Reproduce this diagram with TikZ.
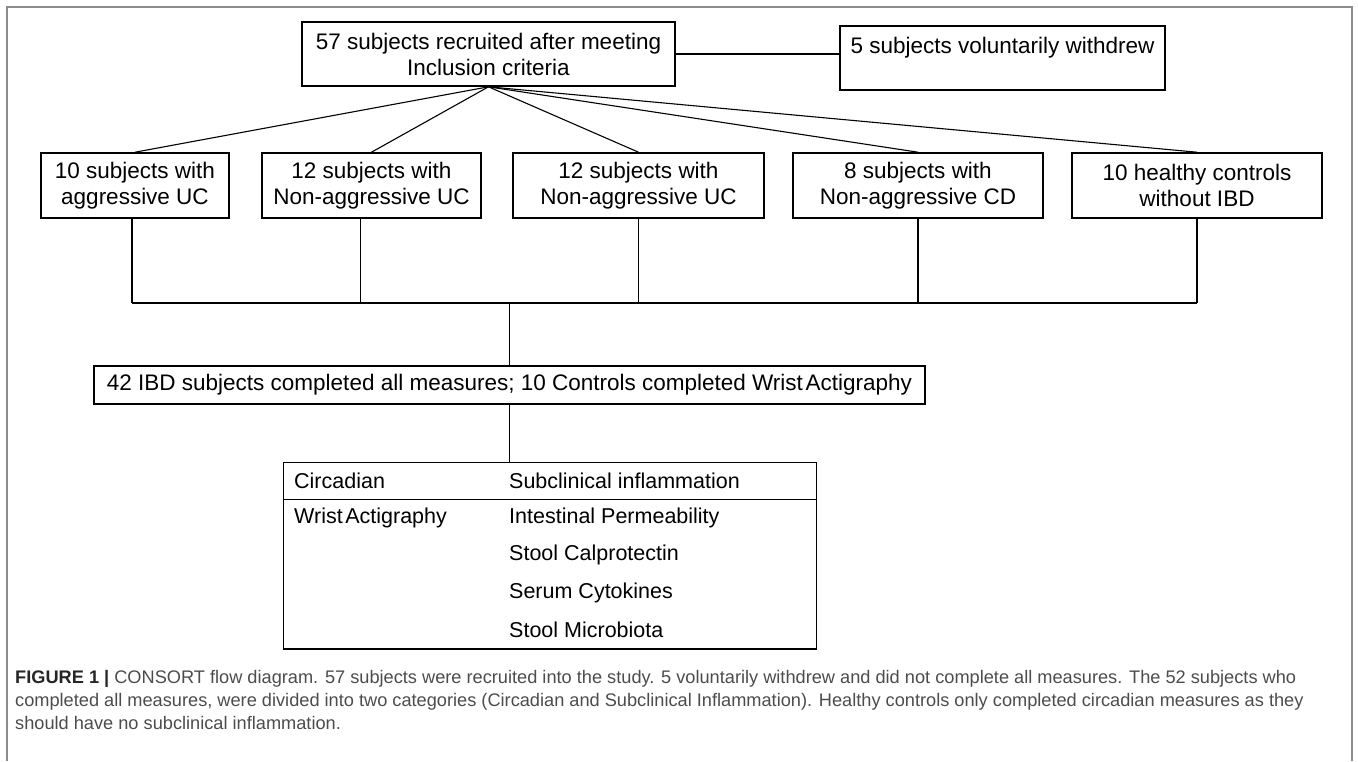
\documentclass[tikz,border=0pt]{standalone}
\usepackage{fontspec}
\setmainfont{Liberation Sans}
\usepackage{tikz}
\definecolor{framegray}{gray}{0.55}
\definecolor{captgray}{gray}{0.3}
\tikzset{
	box/.style={draw, line width=1.6pt, align=center, inner sep=0pt, font=\fontsize{22.5}{26}\selectfont},
	link/.style={line width=1.1pt},
	cell/.style={anchor=west, inner sep=0pt, font=\fontsize{21.5}{24}\selectfont}
}
\newcommand{\wristact}{Wrist\hspace{0.12em}Actigraphy}

\begin{document}
\begin{tikzpicture}[x=1pt, y=-1pt]
			\useasboundingbox (0,0) rectangle (1358,761);
			\draw[framegray, line width=1.5pt] (7,761) -- (7,7) -- (1352,7) -- (1352,761);
			
			\node[box, minimum width=373pt, minimum height=64pt] (recruit) at (488.5,54) {57 subjects recruited after meeting\\Inclusion criteria};
			\node[box, minimum width=325pt, minimum height=64pt] (withdrew) at (1002.5,58) {5 subjects voluntarily withdrew\\\mbox{}};
			\draw[link] (recruit.east) -- (recruit.east -| withdrew.west);
			
			\foreach \n/\x/\w/\o/\t in
			{g1/135/188/-3/{10 subjects with\\aggressive UC},
			 g2/371.5/219/-11/{12 subjects with\\Non-aggressive UC},
			 g3/638.5/251/0/{12 subjects with\\Non-aggressive UC},
			 g4/918/250/0/{8 subjects with\\Non-aggressive CD},
			 g5/1197/250/0/{10 healthy controls\\without IBD}}{
				\node[box, minimum width=\w pt, minimum height=65pt] (\n) at (\x,185.5) {\t};
				\draw[link] (recruit.south) -- (\n.north);
				\draw[link] ([xshift=\o pt]\n.south) -- ([xshift=\o pt]\n.south |- 0,303);
			}
			\coordinate (hub) at (509.5,303);
			\draw[link] ([xshift=-3pt]g1.south |- hub) -- (g5.south |- hub);
			
			\node[box, minimum width=831pt, minimum height=38pt] (done) at (509.5,385) {42 IBD subjects completed all measures; 10 Controls completed \wristact};
			\draw[link] (hub) -- (done.north);
			
			\node[draw, line width=1pt, minimum width=533pt, minimum height=186pt, inner sep=0pt] (tbl) at (549.5,555) {};
			\draw[link] (done.south) -- (done.south |- tbl.north);
			\draw[line width=1pt] (tbl.west |- 0,499) -- (tbl.east |- 0,499);
			\draw[line width=2pt] (tbl.south west) -- (tbl.south east);
			\foreach \n/\t/\y in
			{c1/Circadian/481, c2/\wristact/518}{
				\node[cell] (\n) at (294,\y) {\t};
			}
			\foreach \n/\t/\y in
			{s1/Subclinical inflammation/481, s2/Intestinal Permeability/518, s3/Stool Calprotectin/555, s4/Serum Cytokines/593, s5/Stool Microbiota/630}{
				\node[cell] (\n) at (509,\y) {\t};
			}
			
			\node[anchor=north west, align=left, inner sep=0pt, text=captgray, font=\fontsize{18.2}{23}\selectfont] (cap) at (15,670)
			{\textcolor{black!85}{\textbf{FIGURE 1 |}} CONSORT flow diagram. 57 subjects were recruited into the study. 5 voluntarily withdrew and did not complete all measures. The 52 subjects who\\
			completed all measures, were divided into two categories (Circadian and Subclinical Inflammation). Healthy controls only completed circadian measures as they\\
			should have no subclinical inflammation.};
		\end{tikzpicture}
\end{document}
